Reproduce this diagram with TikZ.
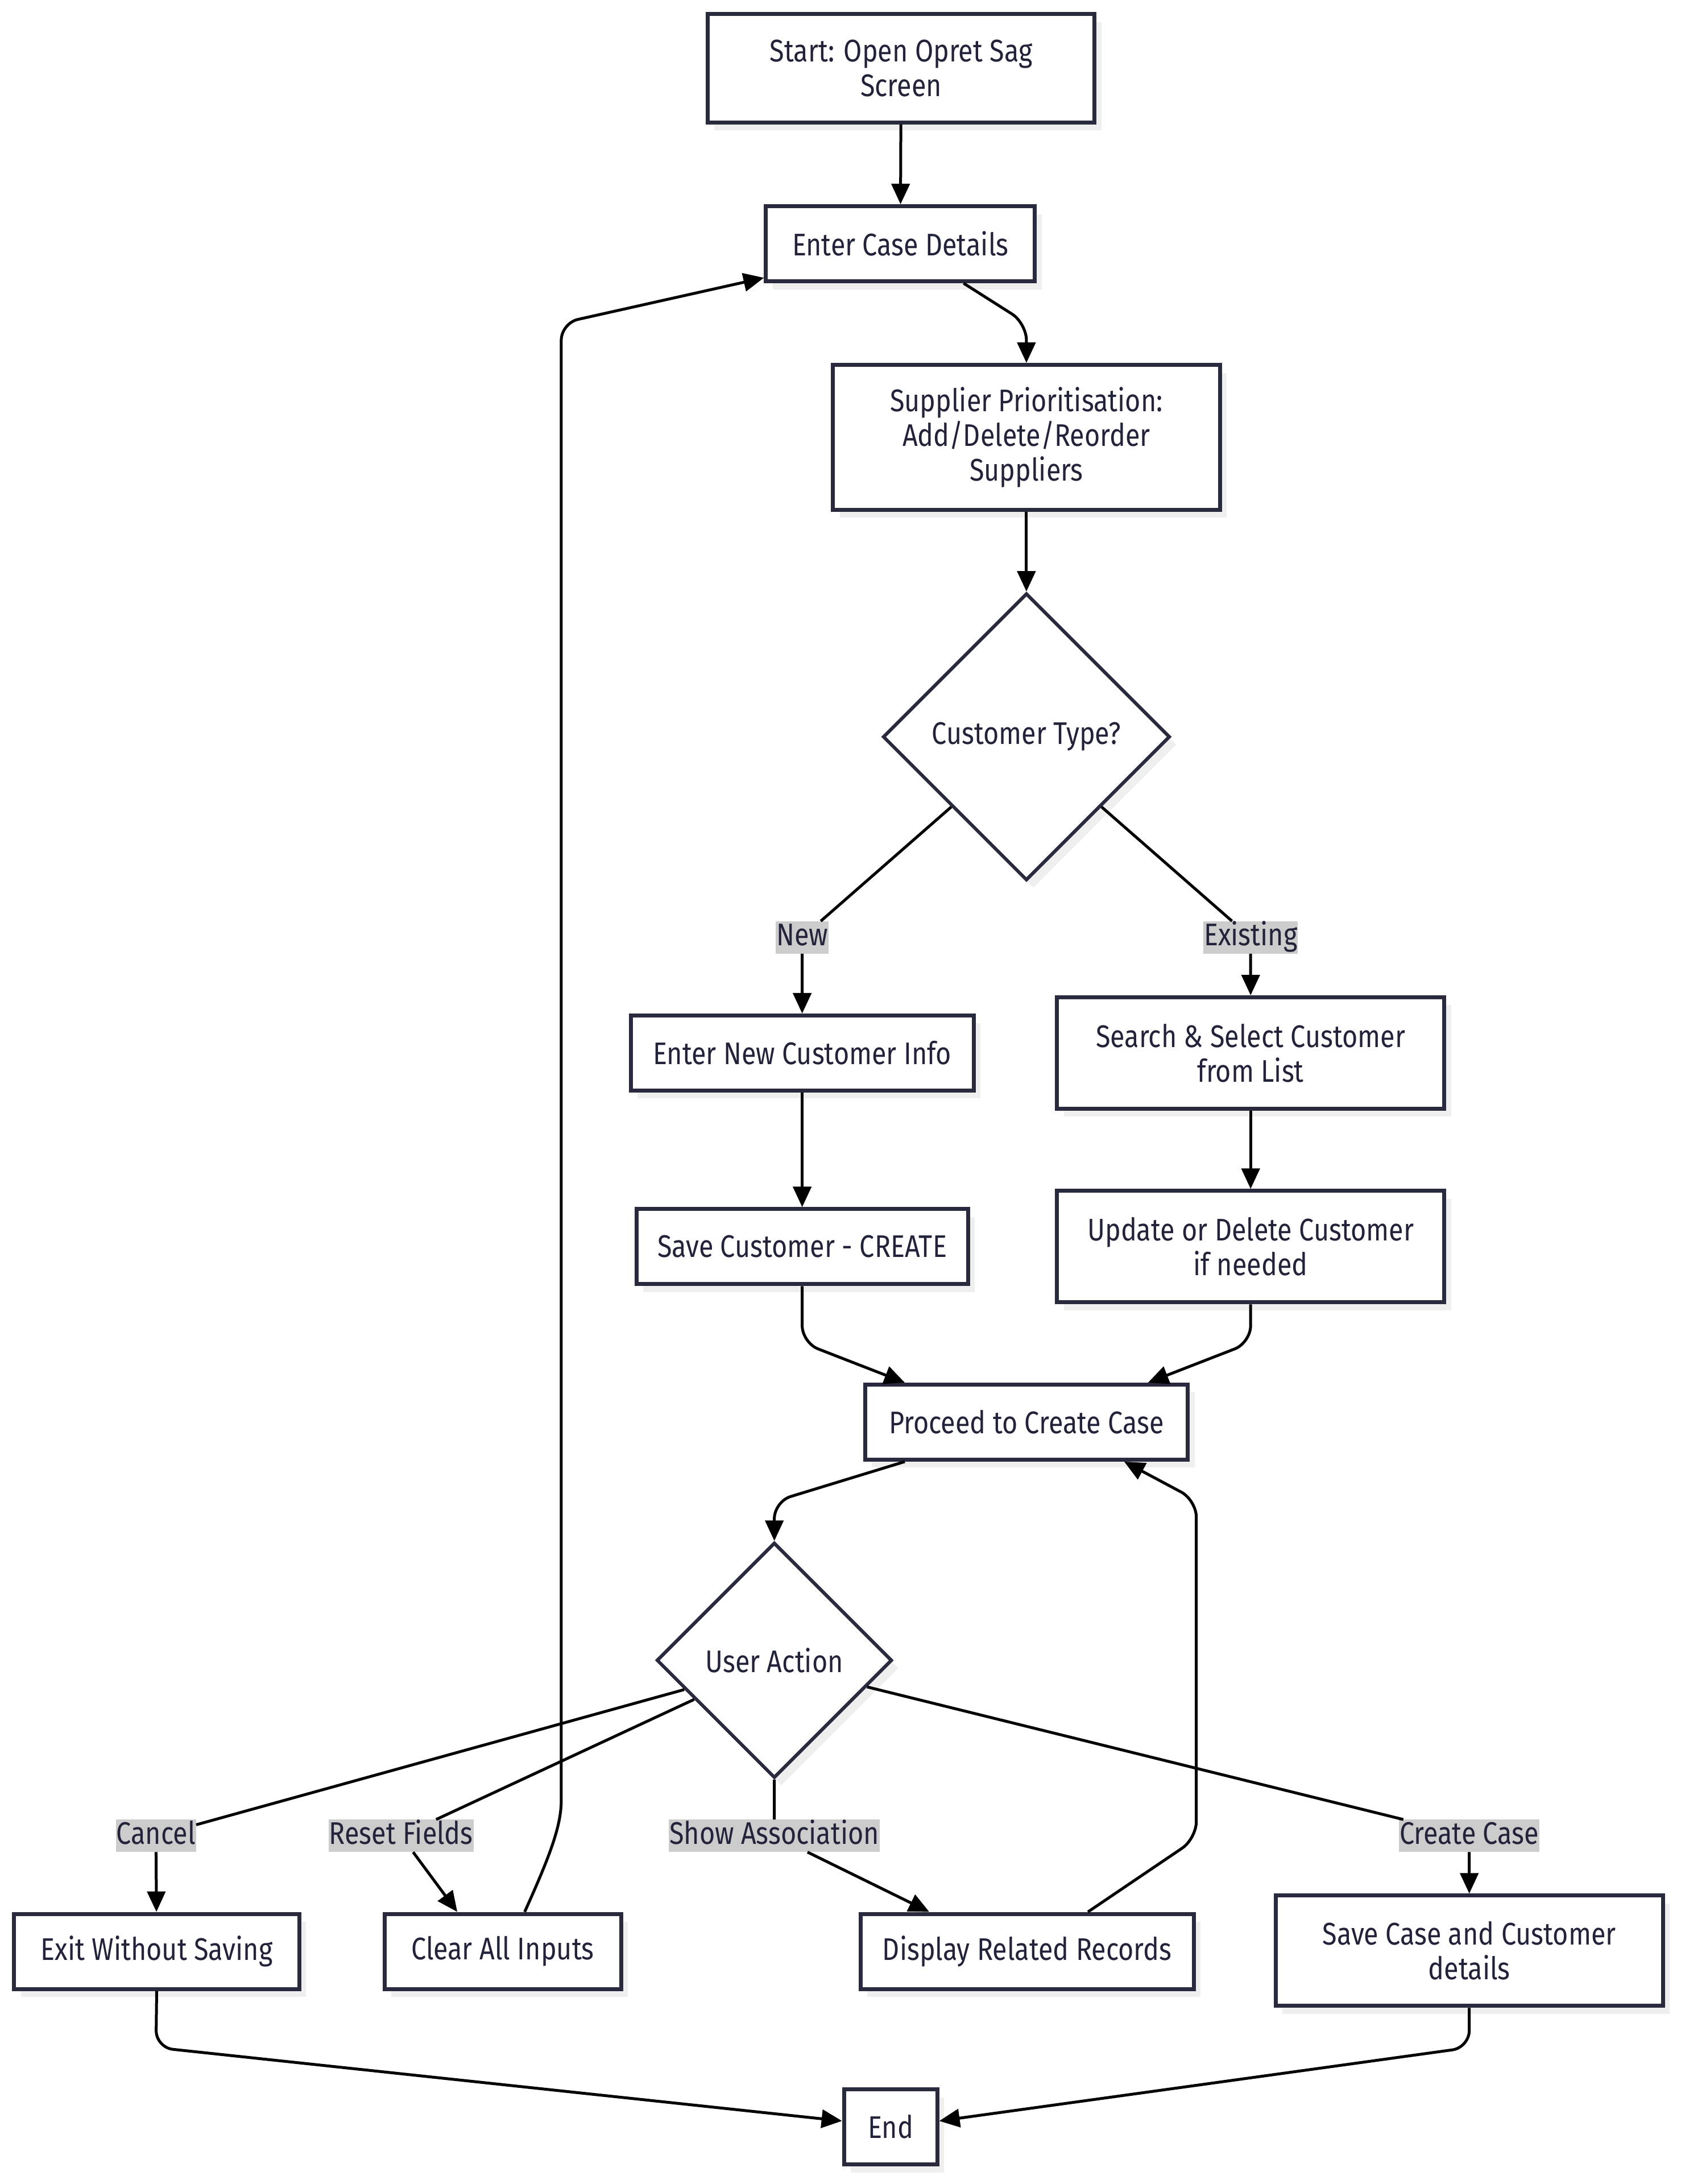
\documentclass[tikz,border=0pt]{standalone}
\usepackage{fontspec}
\setmainfont{Fira Sans}[FakeStretch=0.85]
\usetikzlibrary{arrows.meta,shapes.geometric,shadows}
\definecolor{boxline}{HTML}{2A2A3E}
\definecolor{boxtext}{HTML}{22223A}
\definecolor{shadowgray}{HTML}{EFEFEF}
\definecolor{labelgray}{HTML}{CCCCCC}

\begin{document}
\begin{tikzpicture}[x=2.45pt, y=-2.45pt,
        every node/.style={font=\fontsize{55}{61}\selectfont, text=boxtext},
        box/.style={draw=boxline, line width=7pt, fill=white, align=center, inner sep=0pt,
            minimum height=132pt, drop shadow={shadow xshift=12pt, shadow yshift=-14pt, fill=shadowgray, opacity=1}},
        decision/.style={diamond, aspect=1, draw=boxline, line width=6pt, fill=white, inner sep=0pt,
            drop shadow={shadow xshift=12pt, shadow yshift=-14pt, fill=shadowgray, opacity=1}},
        lbl/.style={fill=labelgray, inner xsep=1pt, inner ysep=3pt, text height=40pt, text depth=11pt},
        wire/.style={draw=black, line width=5pt},
        flow/.style={wire, -{Triangle[length=36pt, width=32pt]}}]
        % Fix the page size
        \useasboundingbox (0,0) rectangle (1207,1568);

        % Draw the steps
        \node[box, minimum width=681pt, minimum height=191pt] (start) at (647,49) {Start: Open Opret Sag\\Screen};
        \node[box, minimum width=473pt] (enter) at (646.5,175) {Enter Case Details};
        \node[box, minimum width=681pt, minimum height=255pt] (supp) at (737,314) {Supplier Prioritisation:\\Add/Delete/Reorder\\Suppliers};
        \node[decision, minimum width=505pt, minimum height=505pt] (ctype) at (737,529) {Customer Type?};
        \node[box, minimum width=603pt] (newc) at (576,756) {Enter New Customer Info};
        \node[box, minimum width=681pt, minimum height=196pt] (search) at (898,756) {Search \& Select Customer\\from List};
        \node[box, minimum width=583pt] (savec) at (576,895) {Save Customer - CREATE};
        \node[box, minimum width=681pt, minimum height=196pt] (update) at (898,895) {Update or Delete Customer\\if needed};
        \node[box, minimum width=568pt] (proceed) at (737,1021) {Proceed to Create Case};
        \node[decision, minimum width=414pt, minimum height=414pt] (useract) at (556,1192) {User Action};
        \node[box, minimum width=502pt] (exit) at (112.5,1401) {Exit Without Saving};
        \node[box, minimum width=416pt] (clear) at (361,1401) {Clear All Inputs};
        \node[box, minimum width=586pt] (display) at (737.5,1401) {Display Related Records};
        \node[box, minimum width=681pt, minimum height=194pt] (savecase) at (1055,1400.5) {Save Case and Customer\\details};
        \node[box, minimum width=164pt] (end) at (639.5,1527) {End};

        % Edge labels
        \node[lbl] (lnew) at (576,673) {New};
        \node[lbl] (lexist) at (898,673) {Existing};
        \node[lbl] (lcancel) at (112,1318) {Cancel};
        \node[lbl] (lreset) at (288,1318) {Reset Fields};
        \node[lbl] (lshow) at (556,1318) {Show Association};
        \node[lbl] (lcreate) at (1055,1318) {Create Case};

        % Draw the main flow
        \draw[flow] (start) -- (enter);
        \draw[flow, rounded corners=30pt] (enter.-32) -- (737,232) -- (supp.north);
        \draw[flow] (supp) -- (ctype);
        \draw[flow] (ctype.223) -- (lnew) -- (newc);
        \draw[flow] (ctype.-43) -- (lexist) -- (search);
        \draw[flow] (newc) -- (savec);
        \draw[flow] (search) -- (update);
        \draw[flow, rounded corners=30pt] (savec.south) -- (576,964) -- (proceed.162);
        \draw[flow, rounded corners=30pt] (update.south) -- (898,964) -- (proceed.18);
        \draw[flow, rounded corners=30pt] (proceed.198) -- (556,1078) -- (useract.north);

        % Draw the user actions
        \draw[flow] (useract.198) -- (lcancel) -- (exit);
        \draw[flow] (useract.206) -- (lreset) -- (clear.139);
        \draw[flow] (useract.south) -- (lshow) -- (display.158);
        \draw[flow] (useract.-16) -- (lcreate) -- (savecase);

        % Loops back and the ends
        \draw[flow, rounded corners=30pt] (clear.61) .. controls (396,1330) and (403,1310) .. (403,1280) -- (403,232) -- (enter.194);
        \draw[flow, rounded corners=30pt] (display.33) -- (859,1320) -- (859,1077) -- (proceed.-22);
        \draw[flow, rounded corners=30pt] (exit.south) -- (112,1470) -- (end.173);
        \draw[flow, rounded corners=30pt] (savecase.south) -- (1055,1470) -- (end.7);
    \end{tikzpicture}
\end{document}
